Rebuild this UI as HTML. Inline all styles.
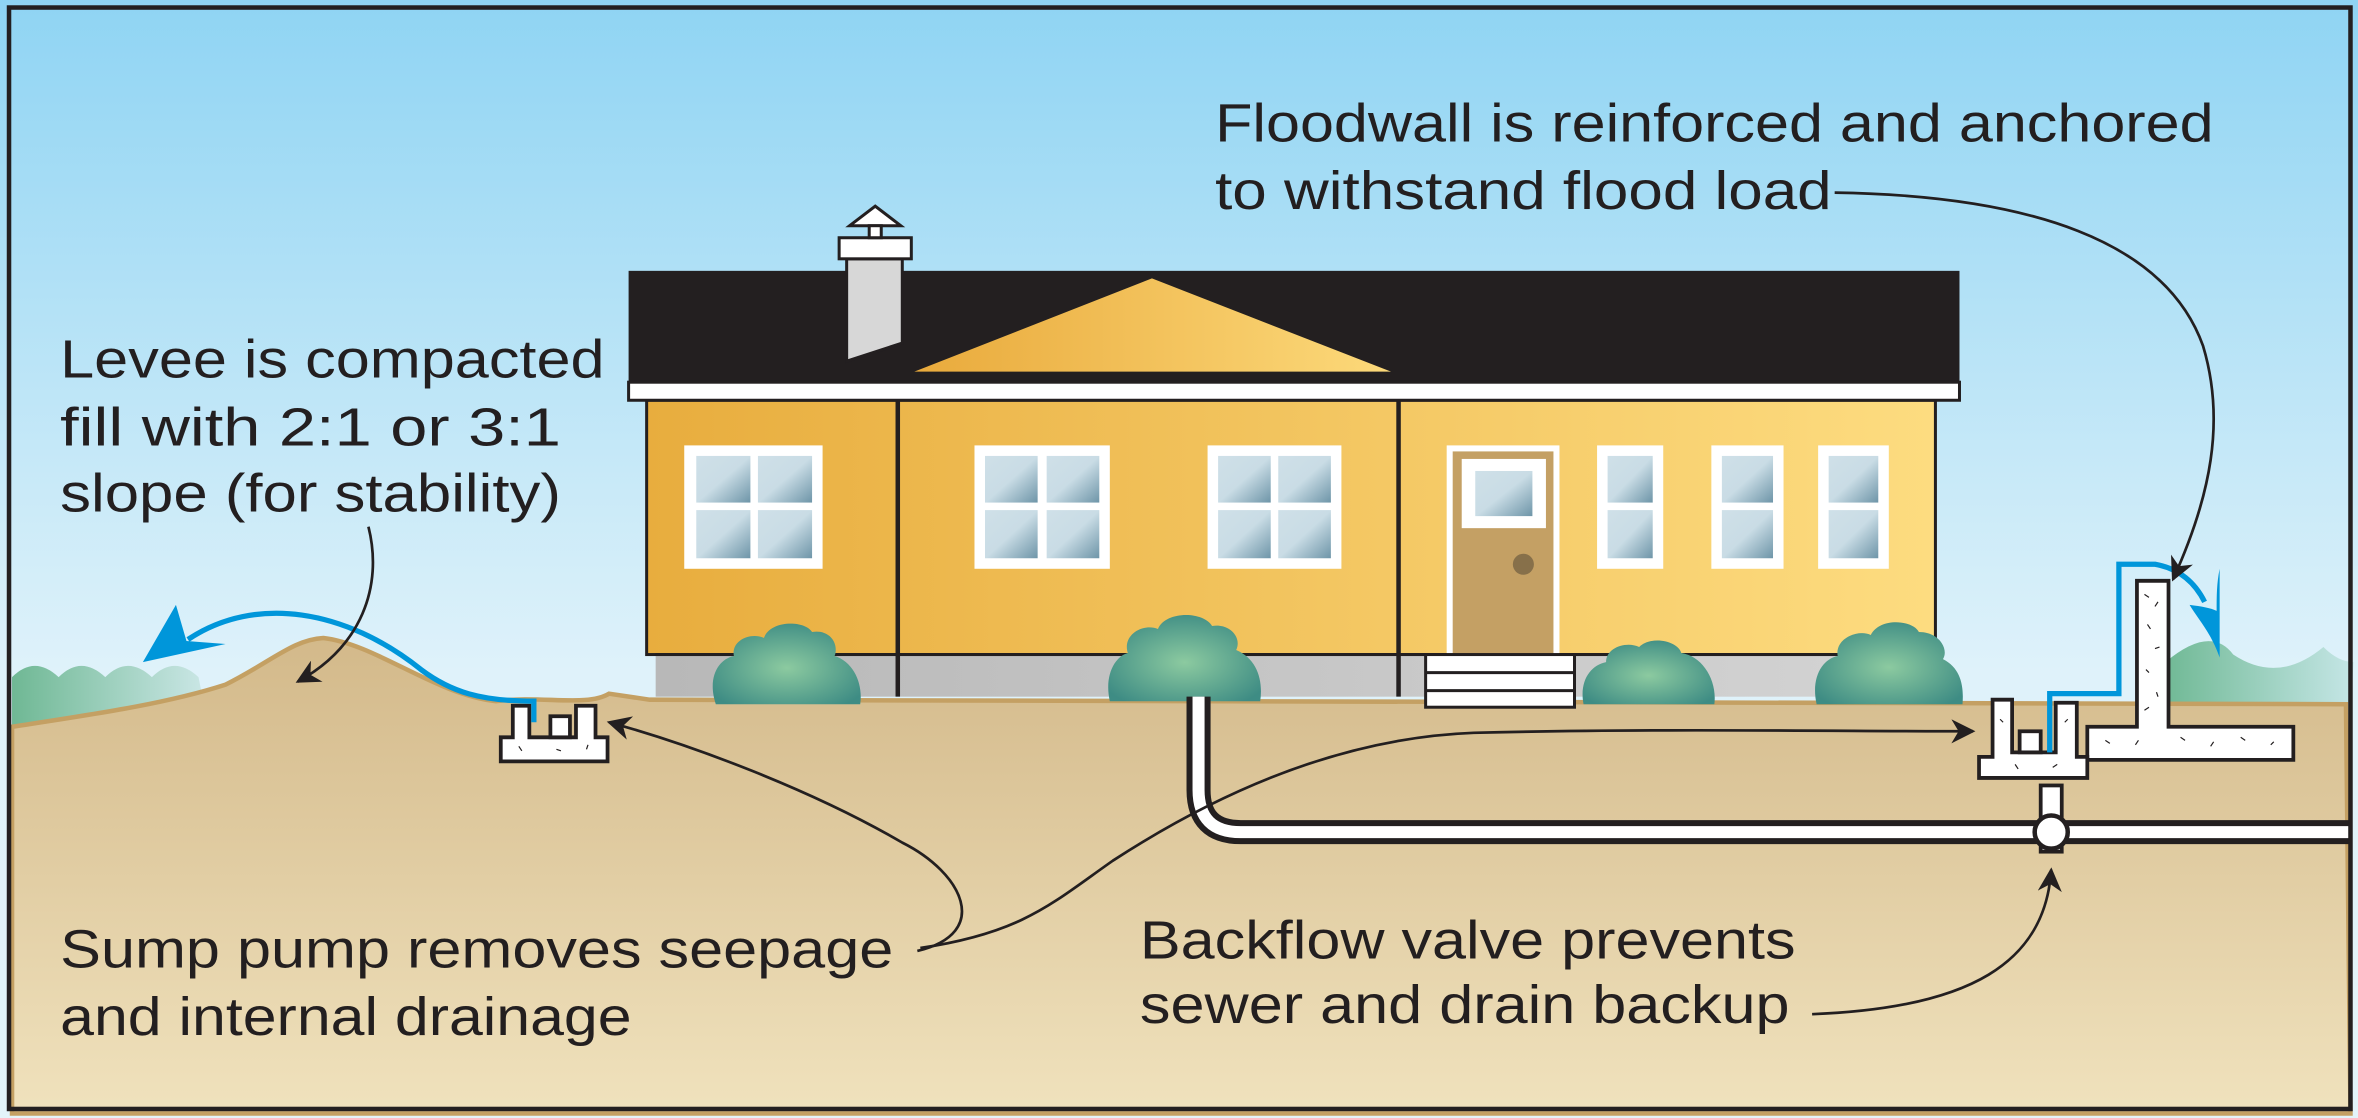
<!DOCTYPE html>
<html><head><meta charset="utf-8"><style>
html,body{margin:0;padding:0;background:#fff}
svg{display:block}
text{font-family:"Liberation Sans",Arial,sans-serif;fill:#231f20}
</style></head><body>
<svg width="2358" height="1118" viewBox="0 0 1568 743" preserveAspectRatio="none" xmlns="http://www.w3.org/2000/svg">
<defs>
<linearGradient id="sky" x1="0" y1="0" x2="0" y2="1"><stop offset="0" stop-color="#8fd4f3"/><stop offset="0.6" stop-color="#dff2fa"/><stop offset="1" stop-color="#e3f4fa"/></linearGradient>
<linearGradient id="gnd" x1="0" y1="0" x2="0" y2="1"><stop offset="0" stop-color="#d3b98a"/><stop offset="1" stop-color="#f0e2bd"/></linearGradient>
<linearGradient id="wall" x1="0" y1="0" x2="1" y2="0"><stop offset="0" stop-color="#e8ad3e"/><stop offset="1" stop-color="#fddc80"/></linearGradient>
<linearGradient id="gab" x1="0" y1="0" x2="1" y2="0"><stop offset="0" stop-color="#e9aa3c"/><stop offset="1" stop-color="#fcd97a"/></linearGradient>
<linearGradient id="glass" x1="0" y1="0" x2="1" y2="1"><stop offset="0" stop-color="#cfe0e8"/><stop offset="0.5" stop-color="#c9dce5"/><stop offset="1" stop-color="#6e95a8"/></linearGradient>
<linearGradient id="wl" x1="0" y1="0" x2="1" y2="0"><stop offset="0" stop-color="#6fb894"/><stop offset="1" stop-color="#cde8e8"/></linearGradient>
<linearGradient id="wr" x1="0" y1="0" x2="1" y2="0"><stop offset="0" stop-color="#70b995"/><stop offset="1" stop-color="#c5e6e6"/></linearGradient>
<radialGradient id="bush" cx="0.5" cy="0.55" r="0.6"><stop offset="0" stop-color="#8ccaa0"/><stop offset="1" stop-color="#3e8c84"/></radialGradient>
<linearGradient id="fnd" x1="0" y1="0" x2="1" y2="0"><stop offset="0" stop-color="#b8b8b8"/><stop offset="1" stop-color="#d4d4d4"/></linearGradient>
<marker id="ah" viewBox="0 0 10 10" refX="9" refY="5" markerWidth="20" markerHeight="16" orient="auto" markerUnits="userSpaceOnUse"><path d="M0,0 L10,5 L0,10 L3,5z" fill="#231f20"/></marker>
</defs>
<rect x="0" y="0" width="1568" height="743" fill="url(#sky)"/>
<!-- water -->
<path d="M8,450 q15,-15 31,0 q15,-15 31,0 q15,-15 31,0 q15,-15 31,0 L140,490 L8,490z" fill="url(#wl)"/>
<path d="M1440,440 q30,-25 45,-5 q30,20 60,-5 q10,10 20,10 L1563,475 L1440,475z" fill="url(#wr)"/>
<!-- ground -->
<path d="M8,483 C60,475 110,468 150,455 C180,440 195,425 215,424 C250,428 290,462 330,466 C360,462 390,470 405,461 L432,465 L1560,468 L1563,740 L8,740z" fill="url(#gnd)" stroke="#c4a063" stroke-width="3"/>
<!-- house -->
<rect x="436" y="430" width="851" height="33" fill="url(#fnd)"/>
<rect x="430" y="266" width="857" height="169" fill="url(#wall)" stroke="#231f20" stroke-width="2"/>
<line x1="597" y1="266" x2="597" y2="463" stroke="#231f20" stroke-width="3"/>
<line x1="930" y1="266" x2="930" y2="463" stroke="#231f20" stroke-width="3"/>
<line x1="436" y1="435" x2="1287" y2="435" stroke="#231f20" stroke-width="2"/>
<rect x="418" y="180" width="885" height="75" fill="#231f20"/>
<rect x="418" y="254" width="885" height="12" fill="#fff" stroke="#231f20" stroke-width="2"/>
<polygon points="608,247 766,185 925,247" fill="url(#gab)"/>
<polygon points="563,172 600,172 600,228 563,240" fill="#d7d7d7" stroke="#231f20" stroke-width="2"/>
<rect x="558" y="158" width="48" height="14" fill="#fff" stroke="#231f20" stroke-width="2"/>
<polygon points="565,150 582,137 599,150" fill="#fff" stroke="#231f20" stroke-width="2"/>
<rect x="578" y="150" width="8" height="8" fill="#fff" stroke="#231f20" stroke-width="2"/>
<!-- windows -->
<g fill="#fff">
<rect x="455" y="296" width="92" height="82"/>
<rect x="648" y="296" width="90" height="82"/>
<rect x="803" y="296" width="89" height="82"/>
<rect x="1062" y="296" width="44" height="82"/>
<rect x="1138" y="296" width="48" height="82"/>
<rect x="1209" y="296" width="47" height="82"/>
</g>
<g fill="url(#glass)">
<rect x="463" y="303" width="36" height="31"/><rect x="504" y="303" width="36" height="31"/><rect x="463" y="339" width="36" height="32"/><rect x="504" y="339" width="36" height="32"/>
<rect x="655" y="303" width="35" height="31"/><rect x="696" y="303" width="35" height="31"/><rect x="655" y="339" width="35" height="32"/><rect x="696" y="339" width="35" height="32"/>
<rect x="810" y="303" width="35" height="31"/><rect x="850" y="303" width="35" height="31"/><rect x="810" y="339" width="35" height="32"/><rect x="850" y="339" width="35" height="32"/>
<rect x="1069" y="303" width="30" height="31"/><rect x="1069" y="339" width="30" height="32"/>
<rect x="1145" y="303" width="34" height="31"/><rect x="1145" y="339" width="34" height="32"/>
<rect x="1216" y="303" width="33" height="31"/><rect x="1216" y="339" width="33" height="32"/>
</g>
<!-- door -->
<rect x="962" y="296" width="75" height="139" fill="#fff"/>
<rect x="966" y="300" width="67" height="135" fill="#c4a064"/>
<rect x="972" y="305" width="56" height="46" fill="#fff"/>
<rect x="981" y="313" width="38" height="30" fill="url(#glass)"/>
<circle cx="1013" cy="375" r="7" fill="#87704a"/>
<rect x="948" y="435" width="99" height="35" fill="#fff" stroke="#231f20" stroke-width="2"/>
<line x1="948" y1="447" x2="1047" y2="447" stroke="#231f20" stroke-width="2"/>
<line x1="948" y1="459" x2="1047" y2="459" stroke="#231f20" stroke-width="2"/>
<!-- bushes -->
<g fill="url(#bush)">
<path d="M476,468 C470,450 478,438 488,436 C486,425 500,420 508,424 C512,412 535,412 540,420 C552,418 558,428 555,436 C568,440 574,455 572,468z"/>
<path d="M738,466 C734,448 742,436 750,434 C746,422 760,414 770,418 C775,406 800,406 806,416 C818,414 826,424 822,432 C836,438 840,452 838,466z"/>
<path d="M1053,468 C1050,452 1058,442 1068,440 C1068,430 1082,426 1090,430 C1098,422 1116,426 1118,434 C1132,436 1142,452 1140,468z"/>
<path d="M1208,468 C1204,450 1212,438 1222,436 C1220,424 1236,418 1244,422 C1250,410 1272,412 1276,420 C1290,420 1296,432 1292,438 C1304,444 1306,456 1305,468z"/>
</g>
<!-- pipe -->
<path d="M797,463 L797,525 Q797,553 825,553 L1562,553" fill="none" stroke="#231f20" stroke-width="16"/>
<path d="M797,463 L797,525 Q797,553 825,553 L1562,553" fill="none" stroke="#fff" stroke-width="8"/>
<rect x="1357" y="522" width="14" height="44" fill="#fff" stroke="#231f20" stroke-width="2.5"/>
<circle cx="1364" cy="553" r="11" fill="#fff" stroke="#231f20" stroke-width="3"/>
<!-- left sump -->
<path d="M341,469 L352,469 L352,490 L383,490 L383,469 L396,469 L396,490 L404,490 L404,506 L333,506 L333,490 L341,490z" fill="#fff" stroke="#231f20" stroke-width="2.5"/>
<rect x="366" y="476" width="13" height="14" fill="#fff" stroke="#231f20" stroke-width="2.5"/>
<!-- right sump + floodwall -->
<path d="M1421,386 L1442,386 L1442,483 L1525,483 L1525,505 L1388,505 L1388,483 L1421,483z" fill="#fff" stroke="#231f20" stroke-width="2.5"/>
<path d="M1325,465 L1338,465 L1338,500 L1367,500 L1367,467 L1381,467 L1381,503 L1388,503 L1388,517 L1316,517 L1316,503 L1325,503z" fill="#fff" stroke="#231f20" stroke-width="2.5"/>
<rect x="1343" y="486" width="14" height="14" fill="#fff" stroke="#231f20" stroke-width="2.5"/>
<g stroke="#231f20" stroke-width="0.8">
<path d="M1426,395 l3,2 M1435,400 l-2,3 M1428,415 l2,3 M1436,430 l-3,1 M1427,445 l2,2 M1434,460 l1,3 M1426,472 l3,-2 M1400,492 l3,2 M1420,495 l2,-3 M1450,490 l3,2 M1470,496 l2,-3 M1490,490 l3,2 M1510,495 l2,-2 M1340,508 l2,3 M1365,510 l3,-2 M1330,478 l2,2 M1373,480 l2,-2 M345,496 l2,3 M370,498 l3,1 M390,498 l1,-3"/>
</g>
<!-- blue flows -->
<path d="M355,480 L355,466 C320,466 300,460 280,445 C230,405 170,395 125,425" fill="none" stroke="#0096da" stroke-width="3.5"/>
<path d="M95,440 L117,402 L124,426 L150,428z" fill="#0096da"/>
<path d="M1363,500 L1363,461 L1409,461 L1409,375 L1433,375 C1450,378 1460,388 1466,400" fill="none" stroke="#0096da" stroke-width="3.5"/>
<path d="M1476,437 C1470,420 1462,412 1456,402 C1464,403 1470,404 1474,406 C1474,396 1474,388 1476,378 Z" fill="#0096da"/>
<!-- leader lines -->
<g fill="none" stroke="#231f20" stroke-width="1.8">
<path d="M1220,128 C1350,130 1440,160 1465,230 C1480,280 1470,330 1445,385" marker-end="url(#ah)"/>
<path d="M245,350 C255,390 240,430 198,453" marker-end="url(#ah)"/>
<path d="M610,632 C660,620 640,580 600,560 C540,525 460,495 405,480" marker-end="url(#ah)"/>
<path d="M612,630 C680,620 700,600 740,572 C820,520 900,490 980,487 C1100,484 1220,486 1312,486" marker-end="url(#ah)"/>
<path d="M1205,674 C1310,670 1360,640 1364,578" marker-end="url(#ah)"/>
</g>
<!-- text -->
<g font-size="36">
<text x="808" y="94" textLength="664" lengthAdjust="spacingAndGlyphs">Floodwall is reinforced and anchored</text>
<text x="808" y="139" textLength="410" lengthAdjust="spacingAndGlyphs">to withstand flood load</text>
<text x="40" y="251" textLength="362" lengthAdjust="spacingAndGlyphs">Levee is compacted</text>
<text x="40" y="296" textLength="333" lengthAdjust="spacingAndGlyphs">fill with 2:1 or 3:1</text>
<text x="40" y="340" textLength="333" lengthAdjust="spacingAndGlyphs">slope (for stability)</text>
<text x="40" y="643" textLength="554" lengthAdjust="spacingAndGlyphs">Sump pump removes seepage</text>
<text x="40" y="688" textLength="380" lengthAdjust="spacingAndGlyphs">and internal drainage</text>
<text x="758" y="637" textLength="436" lengthAdjust="spacingAndGlyphs">Backflow valve prevents</text>
<text x="758" y="680" textLength="432" lengthAdjust="spacingAndGlyphs">sewer and drain backup</text>
</g>
<rect x="6" y="5" width="1557" height="732" fill="none" stroke="#231f20" stroke-width="3"/>
</svg>
</body></html>
